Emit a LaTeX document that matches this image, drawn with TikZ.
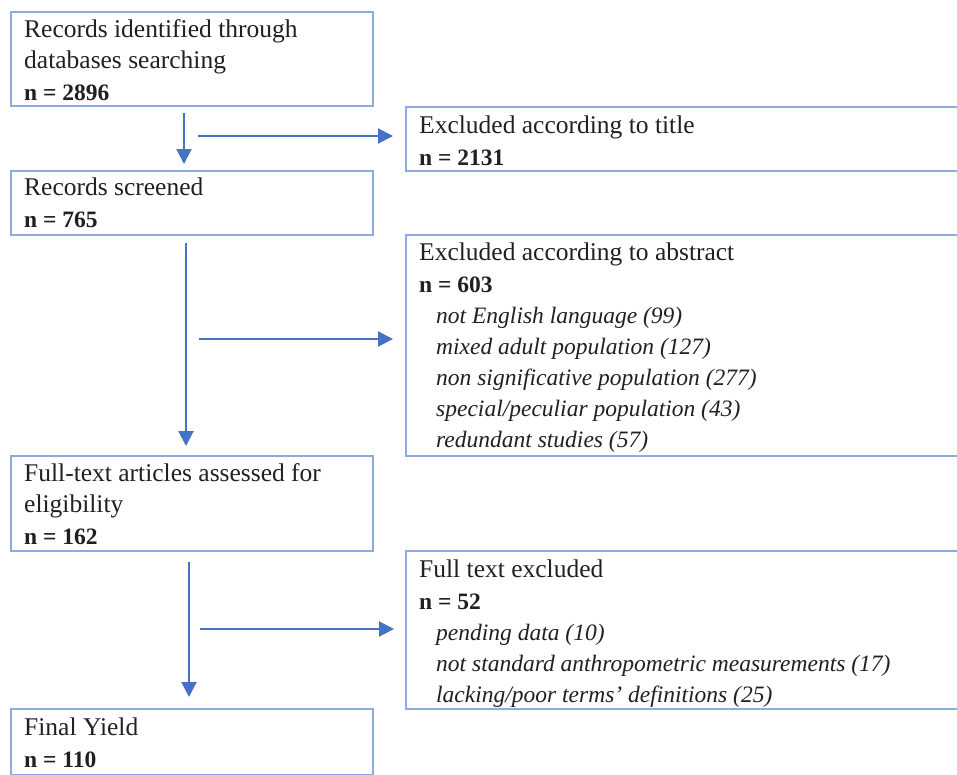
\documentclass[tikz,border=0pt]{standalone}
\usepackage{fontspec}
\setmainfont{Liberation Serif}
\usetikzlibrary{arrows.meta}
\definecolor{boxc}{HTML}{8FAADC}
\definecolor{arrc}{HTML}{4472C4}
\definecolor{txtc}{HTML}{231F20}
\begin{document}
\begin{tikzpicture}[x=1pt,y=-1pt,
  box/.style={draw=boxc,line width=2pt,anchor=north west,inner sep=0pt,outer sep=0pt},
  txt/.style={anchor=base west,inner sep=0pt,text=txtc,font=\fontsize{25.5}{30}\selectfont},
  num/.style={txt,font=\fontsize{23.5}{28}\selectfont\bfseries},
  itm/.style={txt,font=\fontsize{23.5}{28}\selectfont\itshape},
  arr/.style={draw=arrc,line width=2pt,-{Triangle[length=15pt,width=15pt]}}]
\useasboundingbox (0,0) rectangle (957,774);
\clip (0,0) rectangle (957,774);
% left boxes
\node[box,minimum width=362pt,minimum height=94pt] (b1) at (11,12) {};
\node[box,minimum width=362pt,minimum height=64pt] (b2) at (11,171) {};
\node[box,minimum width=362pt,minimum height=95pt] (b3) at (11,456) {};
\node[box,minimum width=362pt,minimum height=66pt] (b4) at (11,709) {};
% right boxes (running past the right edge)
\node[box,minimum width=580pt,minimum height=64pt] (r1) at (406,107) {};
\node[box,minimum width=580pt,minimum height=221pt] (r2) at (406,235) {};
\node[box,minimum width=580pt,minimum height=158pt] (r3) at (406,551) {};
% texts
\node[txt] (t1a) at (24,37) {Records identified through};
\node[txt] (t1b) at (24,68) {databases searching};
\node[num] (t1c) at (24,100) {n = 2896};
\node[txt] (t2a) at (24,195) {Records screened};
\node[num] (t2b) at (24,227) {n = 765};
\node[txt] (t3a) at (24,481) {Full-text articles assessed for};
\node[txt] (t3b) at (24,512) {eligibility};
\node[num] (t3c) at (24,544) {n = 162};
\node[txt] (t4a) at (24,735) {Final Yield};
\node[num] (t4b) at (24,767) {n = 110};
\node[txt] (s1a) at (419,133) {Excluded according to title};
\node[num] (s1b) at (419,165) {n = 2131};
\node[txt] (s2a) at (419,260) {Excluded according to abstract};
\node[num] (s2b) at (419,292) {n = 603};
\node[itm] (s2c) at (436,323) {not English language (99)};
\node[itm] (s2d) at (436,354) {mixed adult population (127)};
\node[itm] (s2e) at (436,385) {non significative population (277)};
\node[itm] (s2f) at (436,416) {special/peculiar population (43)};
\node[itm] (s2g) at (436,447) {redundant studies (57)};
\node[txt] (s3a) at (419,577) {Full text excluded};
\node[num] (s3b) at (419,609) {n = 52};
\node[itm] (s3c) at (436,640) {pending data (10)};
\node[itm] (s3d) at (436,671) {not standard anthropometric measurements (17)};
\node[itm] (s3e) at (436,702) {lacking/poor terms' definitions (25)};
% connector ends
\coordinate (v1s) at (184,113); \coordinate (v1e) at (184,164);
\coordinate (h1s) at (198,136); \coordinate (h1e) at (393,136);
\coordinate (v2s) at (186,243); \coordinate (v2e) at (186,446);
\coordinate (h2s) at (199,339); \coordinate (h2e) at (393,339);
\coordinate (v3s) at (189,562); \coordinate (v3e) at (189,697);
\coordinate (h3s) at (200,629); \coordinate (h3e) at (394,629);
\draw[arr] (v1s) -- (v1e);
\draw[arr] (h1s) -- (h1e);
\draw[arr] (v2s) -- (v2e);
\draw[arr] (h2s) -- (h2e);
\draw[arr] (v3s) -- (v3e);
\draw[arr] (h3s) -- (h3e);
\end{tikzpicture}
\end{document}
